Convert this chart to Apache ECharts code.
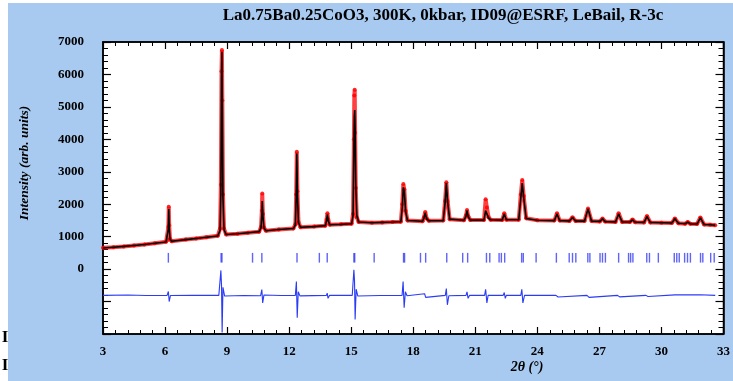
<!DOCTYPE html>
<html>
<head>
<meta charset="utf-8">
<script src="https://cdn.jsdelivr.net/npm/echarts@6/dist/echarts.min.js"></script>
<style>
  html, body { margin: 0; padding: 0; background: #fff; }
  #bg { position: absolute; left: 8px; top: 3px; width: 725px; height: 378px; background: #a8caf0; }
  #main { position: absolute; left: 0; top: 0; width: 733px; height: 381px; }
</style>
</head>
<body>
<div id="bg"></div>
<div id="main"></div>
<script>
// observed / calculated profile (2theta in degrees, intensity in counts)
var twoTheta = [
  3.0, 3.5, 4.0, 4.5, 5.0, 5.5, 6.05, 6.13, 6.16, 6.18, 6.2, 6.24, 6.32,
  7.0, 7.5, 8.0, 8.55, 8.66, 8.7, 8.73, 8.75, 8.77, 8.8, 8.85, 8.95,
  9.5, 10.0, 10.55, 10.64, 10.68, 10.7, 10.73, 10.78, 10.88,
  11.5, 12.2, 12.3, 12.34, 12.37, 12.4, 12.45, 12.55,
  13.2, 13.75, 13.81, 13.85, 13.89, 13.96,
  14.5, 15.02, 15.09, 15.13, 15.15, 15.17, 15.19, 15.22, 15.27, 15.36,
  16.0, 16.5, 17.0, 17.4, 17.47, 17.52, 17.57, 17.63, 17.72,
  18.45, 18.52, 18.58, 18.65, 18.75,
  19.45, 19.54, 19.6, 19.66, 19.76,
  20.45, 20.55, 20.6, 20.66, 20.76,
  21.42, 21.5, 21.56, 21.64, 21.74,
  22.3, 22.4, 22.5,
  23.1, 23.2, 23.27, 23.34, 23.46,
  24.0, 24.82, 24.95, 25.08, 25.55, 25.7, 25.85,
  26.28, 26.45, 26.62, 27.02, 27.15, 27.28, 27.78, 27.93, 28.1,
  28.47, 28.6, 28.73, 29.16, 29.3, 29.46, 30.0, 30.5, 30.65, 30.82,
  31.15, 31.27, 31.4, 31.72, 31.88, 32.06, 32.35, 32.6
];
var yObs = [
  655, 675, 700, 730, 760, 795, 840, 900, 1300, 1920, 1350, 930, 860,
  910, 945, 985, 1025, 1250, 2600, 6100, 6750, 5200, 2300, 1250, 1070,
  1090, 1120, 1155, 1300, 1800, 2330, 1700, 1280, 1180,
  1220, 1250, 1380, 2300, 3620, 2400, 1450, 1290,
  1310, 1340, 1520, 1720, 1520, 1370,
  1380, 1400, 1700, 4000, 5350, 5530, 4200, 2500, 1600, 1450,
  1430, 1440, 1450, 1460, 2000, 2620, 2450, 1800, 1500,
  1475, 1600, 1760, 1560, 1490,
  1495, 2100, 2680, 2100, 1540,
  1505, 1650, 1820, 1620, 1510,
  1510, 2150, 1900, 1600, 1520,
  1510, 1720, 1520,
  1520, 2300, 2750, 2250, 1570,
  1505, 1495, 1720, 1495, 1485, 1600, 1485,
  1480, 1870, 1480, 1470, 1560, 1465, 1455, 1720, 1455,
  1450, 1530, 1445, 1440, 1640, 1440, 1430, 1420, 1560, 1415,
  1400, 1450, 1395, 1390, 1590, 1375, 1365, 1350
];
var yCalc = [
  650, 675, 700, 730, 760, 795, 838, 890, 1250, 1850, 1300, 920, 858,
  910, 945, 980, 1020, 1200, 2400, 5900, 6700, 5000, 2200, 1220, 1065,
  1090, 1120, 1155, 1280, 1700, 2100, 1650, 1270, 1180,
  1220, 1250, 1360, 2200, 3560, 2300, 1430, 1290,
  1310, 1340, 1500, 1680, 1500, 1365,
  1380, 1400, 1650, 3800, 4700, 4900, 4300, 2600, 1650, 1450,
  1430, 1440, 1450, 1460, 1900, 2520, 2400, 1780, 1500,
  1475, 1580, 1730, 1550, 1490,
  1495, 2050, 2650, 2080, 1540,
  1505, 1630, 1800, 1610, 1510,
  1510, 1800, 1750, 1580, 1520,
  1510, 1700, 1520,
  1520, 2200, 2650, 2200, 1560,
  1505, 1495, 1700, 1495, 1485, 1590, 1485,
  1480, 1850, 1480, 1470, 1550, 1465, 1455, 1700, 1455,
  1450, 1520, 1445, 1440, 1620, 1440, 1430, 1420, 1550, 1415,
  1400, 1450, 1395, 1390, 1580, 1375, 1365, 1350
];

// difference curve (obs - calc), drawn shifted below zero
var diffTheta = [
  3.0, 4.2, 5.1, 6.1, 6.16, 6.2, 6.26, 7.3, 8.6, 8.7, 8.73, 8.76, 8.8, 8.88,
  9.8, 10.62, 10.68, 10.72, 10.78, 11.6, 12.3, 12.35, 12.39, 12.44, 12.52,
  13.8, 13.84, 13.88, 13.95, 15.05, 15.13, 15.16, 15.19, 15.24, 15.32,
  16.4, 17.46, 17.51, 17.56, 17.62, 17.7, 18.55, 18.6, 18.66,
  19.55, 19.6, 19.65, 19.72, 20.55, 20.6, 20.65, 20.72,
  21.45, 21.5, 21.56, 21.62, 22.35, 22.4, 22.45, 22.5,
  23.2, 23.25, 23.3, 23.38, 24.9, 24.95, 25.0, 25.05,
  26.4, 26.45, 26.5, 26.55, 27.88, 27.93, 27.98, 28.03,
  29.25, 29.3, 29.35, 29.4, 30.65, 30.7, 31.88, 31.93, 32.6
];
var yDiff = [
  -810, -800, -815, -810, -690, -1000, -815, -805, -810, -40, -500, -1950, -560, -830,
  -815, -820, -630, -1040, -800, -815, -810, -380, -1500, -700, -825,
  -810, -740, -900, -810, -810, -20, -350, -1550, -620, -830,
  -815, -810, -380, -1190, -700, -820, -760, -870, -810,
  -810, -600, -1100, -820, -810, -700, -900, -810,
  -810, -620, -1040, -810, -810, -720, -900, -810,
  -810, -620, -1040, -810, -810, -760, -860, -810,
  -810, -760, -870, -810, -810, -775, -855, -810,
  -810, -785, -845, -810, -795, -830, -790, -835, -810
];

// Bragg reflection positions (R-3c)
var braggPos = [
  6.16, 8.71, 8.75, 10.23, 10.68, 12.38, 13.46, 13.84, 15.13, 15.17, 16.11,
  17.53, 17.58, 18.35, 18.6, 19.62, 20.39, 20.63, 21.54, 21.7, 22.15, 22.26,
  22.42, 23.24, 23.32, 23.94, 24.92, 25.54, 25.7, 25.86, 26.44, 26.54, 27.03,
  27.15, 27.29, 27.93, 28.41, 28.51, 28.62, 29.29, 29.42, 29.85, 30.62, 30.74,
  30.86, 31.12, 31.26, 31.4, 31.89, 32.0, 32.38, 32.55
];
var braggLow = 200, braggHigh = 500;

var titleText = 'La0.75Ba0.25CoO3, 300K, 0kbar, ID09@ESRF, LeBail, R-3c';
var serif = 'Liberation Serif, Times New Roman, serif';

function pairs(xs, ys) {
  return xs.map(function (x, i) { return [x, ys[i]]; });
}

var chart = echarts.init(document.getElementById('main'), null, { renderer: 'canvas' });

var frameLine = { show: true, onZero: false, lineStyle: { color: '#000', width: 1.5 } };

var option = {
  animation: false,
  grid: {
    left: 103, right: 4, top: 42, bottom: 47,
    show: true, backgroundColor: '#fff', borderColor: '#000', borderWidth: 1.5
  },
  xAxis: [{
    type: 'value', min: 3, max: 33, interval: 3,
    axisLine: frameLine,
    axisTick: { show: true, inside: true, length: 7, lineStyle: { color: '#000', width: 1.2 } },
    minorTick: { show: true, splitNumber: 5, length: 4, lineStyle: { color: '#000', width: 1 } },
    splitLine: { show: false },
    axisLabel: { color: '#000', fontFamily: serif, fontWeight: 'bold', fontSize: 13, margin: 11 }
  }, {
    type: 'value', position: 'top', min: 3, max: 33, interval: 3,
    axisLine: frameLine,
    axisTick: { show: true, inside: true, length: 7, lineStyle: { color: '#000', width: 1.2 } },
    minorTick: { show: true, splitNumber: 5, length: 4, lineStyle: { color: '#000', width: 1 } },
    splitLine: { show: false },
    axisLabel: { show: false }
  }],
  yAxis: [{
    type: 'value', min: -2000, max: 7000, interval: 1000,
    axisLine: frameLine,
    axisTick: { show: true, inside: true, length: 8, lineStyle: { color: '#000', width: 1.2 } },
    minorTick: { show: true, splitNumber: 5, length: 5, lineStyle: { color: '#000', width: 1 } },
    splitLine: { show: false },
    axisLabel: {
      color: '#000', fontFamily: serif, fontWeight: 'bold', fontSize: 13, margin: 19,
      formatter: function (v) { return v < 0 ? '' : String(v); }
    }
  }, {
    type: 'value', position: 'right', min: -2000, max: 7000, interval: 1000,
    axisLine: frameLine,
    axisTick: { show: true, inside: true, length: 8, lineStyle: { color: '#000', width: 1.2 } },
    minorTick: { show: true, splitNumber: 5, length: 5, lineStyle: { color: '#000', width: 1 } },
    splitLine: { show: false },
    axisLabel: { show: false }
  }],
  series: [{
    name: 'Yobs',
    type: 'line',
    data: pairs(twoTheta, yObs),
    symbol: 'circle', symbolSize: 4, showSymbol: true, showAllSymbol: true,
    itemStyle: { color: 'rgba(255,0,0,0.85)' },
    lineStyle: { color: 'rgba(255,0,0,0.75)', width: 4 },
    z: 2
  }, {
    name: 'Ycalc',
    type: 'line',
    data: pairs(twoTheta, yCalc),
    showSymbol: false,
    lineStyle: { color: '#000', width: 1.6 },
    z: 3
  }, {
    name: 'Yobs-Ycalc',
    type: 'line',
    data: pairs(diffTheta, yDiff),
    showSymbol: false,
    lineStyle: { color: '#2a3cf5', width: 1.1 },
    z: 3
  }, {
    name: 'Bragg',
    type: 'custom',
    data: braggPos.map(function (p) { return [p]; }),
    renderItem: function (params, api) {
      var x = api.value(0);
      var a = api.coord([x, braggLow]);
      var b = api.coord([x, braggHigh]);
      return {
        type: 'line',
        shape: { x1: a[0], y1: a[1], x2: b[0], y2: b[1] },
        style: { stroke: 'rgba(40,50,245,0.75)', lineWidth: 1.4 }
      };
    },
    z: 3
  }],
  graphic: [{
    type: 'text', x: 443, y: 16,
    style: {
      text: titleText, fill: '#000', font: 'bold 17px ' + serif,
      textAlign: 'center', textVerticalAlign: 'middle'
    }
  }, {
    type: 'text', x: 25, y: 163, rotation: Math.PI / 2,
    style: {
      text: 'Intensity (arb. units)', fill: '#000', font: 'italic bold 13.5px ' + serif,
      textAlign: 'center', textVerticalAlign: 'middle'
    }
  }, {
    type: 'text', x: 527, y: 367,
    style: {
      text: '2θ (°)', fill: '#000', font: 'italic bold 14px ' + serif,
      textAlign: 'center', textVerticalAlign: 'middle'
    }
  }, {
    type: 'text', x: 5, y: 338,
    style: { text: 'I', fill: '#000', font: 'bold 17px ' + serif, textAlign: 'center', textVerticalAlign: 'middle' }
  }, {
    type: 'text', x: 5, y: 366,
    style: { text: 'I', fill: '#000', font: 'bold 17px ' + serif, textAlign: 'center', textVerticalAlign: 'middle' }
  }]
};

chart.setOption(option);
</script>
</body>
</html>
